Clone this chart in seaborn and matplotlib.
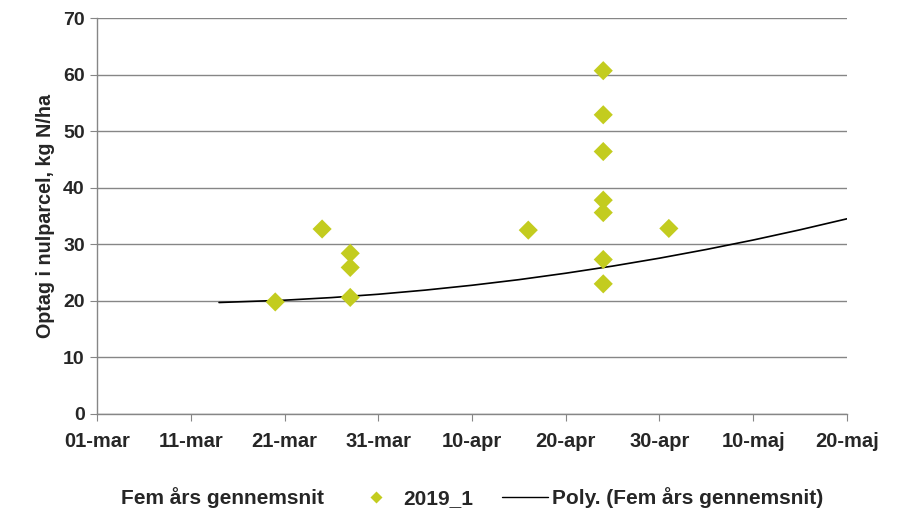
import seaborn as sns
import matplotlib.pyplot as plt
from matplotlib.lines import Line2D
import pandas as pd

# 2019_1 measurements (date, uptake kg N/ha)
obs_dates = ["2019-03-20", "2019-03-25", "2019-03-28", "2019-03-28", "2019-03-28",
             "2019-04-16", "2019-04-24", "2019-04-24", "2019-04-24", "2019-04-24",
             "2019-04-24", "2019-04-24", "2019-04-24", "2019-05-01"]
obs_values = [19.8, 32.7, 28.4, 25.9, 20.6,
              32.5, 60.7, 52.9, 46.4, 37.8,
              35.6, 27.3, 23.0, 32.8]

# polynomial trend line (Fem års gennemsnit)
trend_dates = ["2019-03-14", "2019-03-21", "2019-03-26", "2019-03-31", "2019-04-05",
               "2019-04-10", "2019-04-15", "2019-04-20", "2019-04-25", "2019-04-30",
               "2019-05-05", "2019-05-10", "2019-05-15", "2019-05-20"]
trend_values = [19.70, 20.11, 20.57, 21.16, 21.89,
                22.75, 23.74, 24.88, 26.14, 27.54,
                29.08, 30.75, 32.56, 34.50]

tick_dates = ["2019-03-01", "2019-03-11", "2019-03-21", "2019-03-31", "2019-04-10",
              "2019-04-20", "2019-04-30", "2019-05-10", "2019-05-20"]
tick_labels = ["01-mar", "11-mar", "21-mar", "31-mar", "10-apr",
               "20-apr", "30-apr", "10-maj", "20-maj"]

obs = pd.DataFrame({"date": pd.to_datetime(obs_dates), "value": obs_values})
trend = pd.DataFrame({"date": pd.to_datetime(trend_dates), "value": trend_values})

sns.set_style("white")
plt.rcParams["font.family"] = ["Liberation Sans", "DejaVu Sans"]

marker_color = "#C3CC1F"
grid_color = "#868686"

fig = plt.figure(figsize=(9, 5.32), dpi=100)
ax = fig.add_axes([0.108, 0.222, 0.833, 0.744])

sns.lineplot(data=trend, x="date", y="value", ax=ax, color="black", linewidth=1.2)
sns.scatterplot(data=obs, x="date", y="value", ax=ax, marker="D", s=95,
                color=marker_color, edgecolor="none", zorder=3)

ax.set_xlim(pd.Timestamp("2019-03-01"), pd.Timestamp("2019-05-20"))
ax.set_ylim(0, 70)
ax.set_yticks(range(0, 71, 10))
ax.set_xticks(pd.to_datetime(tick_dates))
ax.set_xticklabels(tick_labels)

ax.yaxis.grid(True, color=grid_color, linewidth=1)
ax.xaxis.grid(False)
ax.set_axisbelow(True)
for side in ["top", "right"]:
    ax.spines[side].set_visible(False)
for side in ["left", "bottom"]:
    ax.spines[side].set_color(grid_color)
    ax.spines[side].set_linewidth(1)

ax.tick_params(axis="both", which="both", length=5, color=grid_color,
               pad=4, direction="out", bottom=True, left=True)
ax.tick_params(axis="y", labelsize=14)
ax.tick_params(axis="x", labelsize=14.5, pad=8)
for lbl in ax.get_xticklabels() + ax.get_yticklabels():
    lbl.set_fontweight("bold")

ax.set_xlabel("")
ax.set_ylabel("Optag i nulparcel, kg N/ha", fontsize=14.2, fontweight="bold", labelpad=6)

handles = [
    Line2D([], [], linestyle="none", marker=None),
    Line2D([], [], linestyle="none", marker="D", markersize=6.5,
           color=marker_color, markeredgecolor="none"),
    Line2D([], [], color="black", linewidth=1),
]
labels = ["Fem års gennemsnit", "2019_1", "Poly. (Fem års gennemsnit)"]
fig.legend(handles, labels, loc="center", bbox_to_anchor=(0.497, 0.065), ncol=3,
           frameon=False, prop={"size": 15, "weight": "bold"},
           handlelength=2.2, columnspacing=1.4, handletextpad=0.2)

fig.savefig("out.png", dpi=100)
